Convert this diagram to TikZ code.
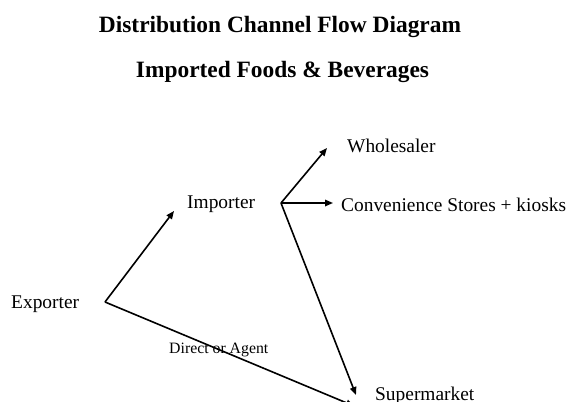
\documentclass[tikz,border=0pt]{standalone}
\usepackage{fontspec}
\setmainfont{Liberation Serif}
\usetikzlibrary{arrows.meta}
\begin{document}
\begin{tikzpicture}[x=1pt,y=-1pt,
  lbl/.style={anchor=base west,inner sep=0pt,font=\fontsize{19.4}{22}\selectfont},
  ttl/.style={anchor=base,inner sep=0pt,font=\fontsize{23.4}{27}\selectfont\bfseries},
  flow/.style={line width=1.6pt,-{Triangle[length=8pt,width=6.5pt]}}]
\useasboundingbox (0,0) rectangle (571,402);
\node[ttl] (t1) at (280,32) {Distribution Channel Flow Diagram};
\node[ttl] (t2) at (282.5,77) {Imported Foods \& Beverages};
\node[lbl] (exporter) at (11,308) {Exporter};
\node[lbl] (importer) at (187,208) {Importer};
\node[lbl] (wholesaler) at (347,152) {Wholesaler};
\node[lbl] (conv) at (341,211) {Convenience Stores + kiosks};
\node[lbl] (super) at (375,400) {Supermarket};
\node[anchor=base west,inner sep=0pt,font=\fontsize{15.8}{18}\selectfont] (direct) at (169,353) {Direct or Agent};
\coordinate (ex) at (105,302);
\coordinate (exI) at (174,211);
\coordinate (im) at (281,203);
\coordinate (imW) at (327,148);
\coordinate (imC) at (333,203);
\coordinate (imS) at (356,395);
\coordinate (exS) at (354,406);
\draw[flow] (ex) -- (exI);
\draw[flow] (ex) -- (exS);
\draw[flow] (im) -- (imW);
\draw[flow] (im) -- (imC);
\draw[flow] (im) -- (imS);
\end{tikzpicture}
\end{document}
